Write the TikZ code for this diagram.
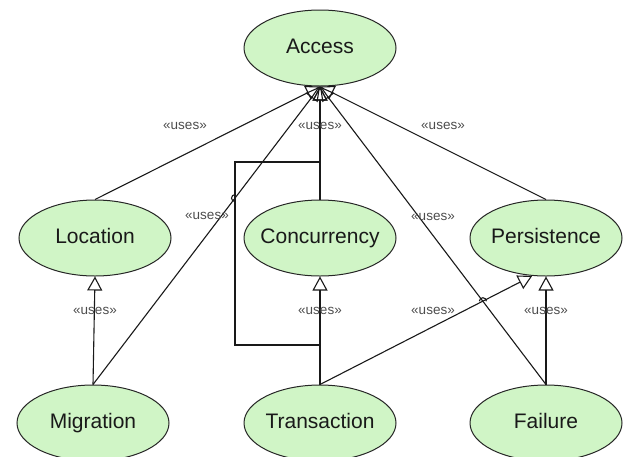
\documentclass[tikz,border=0pt]{standalone}
\usepackage{fontspec}
\setmainfont{Liberation Sans}
\usetikzlibrary{arrows.meta,calc,shapes.geometric}
\definecolor{ucfill}{RGB}{208,245,198}
\begin{document}
\begin{tikzpicture}[x=1pt,y=-1pt,
  uc/.style={ellipse,draw=black!85,line width=1pt,fill=ucfill,minimum width=152pt,minimum height=76pt,inner xsep=-20pt,inner ysep=0pt,text height=15pt,text depth=4pt,text=black!90,font=\fontsize{21}{24}\selectfont},
  uses/.style={draw=black!90,line width=1.1pt,-{Triangle[open,length=14pt,width=15pt]}},
  plain/.style={draw=black!90,line width=1.1pt},
  lbl/.style={font=\fontsize{13.5}{15}\selectfont,text=black!70,inner sep=1pt}]
\useasboundingbox (0,0) rectangle (626,456);
\node[uc] (Access) at (320,48) {Access};
\node[uc] (Location) at (95,238) {Location};
\node[uc] (Concurrency) at (320,238) {Concurrency};
\node[uc] (Persistence) at (546,238) {Persistence};
\node[uc] (Migration) at (93,423) {Migration};
\node[uc] (Transaction) at (320,423) {Transaction};
\node[uc] (Failure) at (546,423) {Failure};
\coordinate (bl) at (235,345);
\coordinate (tl) at (235,162);
% connectors to Access
\draw[uses] (Location.north) -- (Access.south);
\draw[uses] (Migration.north) -- (Access.south);
\draw[uses] (Concurrency.north) -- (Access.south);
\draw[uses] (Transaction.north) |- (bl) -- (tl) -| (Access.south);
\draw[uses] (Failure.north) -- (Access.south);
\draw[uses] (Persistence.north) -- (Access.south);
% lower connectors
\draw[uses] (Migration.north) -- (Location.south);
\draw[uses] (Transaction.north) -- (Concurrency.south);
\draw[uses] (Transaction.north) -- (Persistence.250);
\draw[uses] (Failure.north) -- (Persistence.south);
% hops
\coordinate (h1) at (intersection of Migration.north--Access.south and bl--tl);
\coordinate (h2) at (intersection of Transaction.north--Persistence.250 and Failure.north--Access.south);
\draw[plain] ($(h1)+(0,3.5)$) arc[start angle=90,end angle=270,radius=3.5];
\draw[plain] ($(h2)+(-3.5,0)$) arc[start angle=180,end angle=360,radius=3.5];
% labels
\node[lbl] (l1) at (185,126) {«uses»};
\node[lbl] (l2) at (320,126) {«uses»};
\node[lbl] (l3) at (443,126) {«uses»};
\node[lbl] (l4) at (207,216) {«uses»};
\node[lbl] (l5) at (433,217) {«uses»};
\node[lbl] (l6) at (95,311) {«uses»};
\node[lbl] (l7) at (320,311) {«uses»};
\node[lbl] (l8) at (433,311) {«uses»};
\node[lbl] (l9) at (546,311) {«uses»};
\end{tikzpicture}
\end{document}
